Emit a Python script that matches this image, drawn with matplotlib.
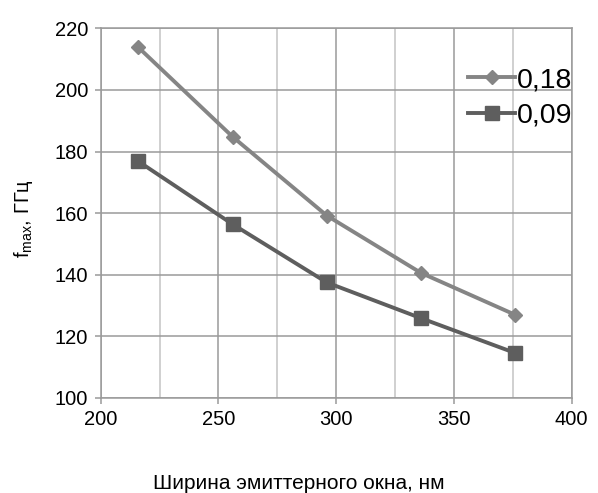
import numpy as np
import matplotlib.pyplot as plt
from matplotlib.ticker import MultipleLocator

plt.rcParams["font.family"] = ["Liberation Sans", "DejaVu Sans"]
plt.rcParams["mathtext.fontset"] = "custom"
plt.rcParams["mathtext.rm"] = "Liberation Sans"

width_nm = [216, 256, 296, 336, 376]
fmax_018 = [213.8, 184.8, 159.2, 140.6, 127.0]
fmax_009 = [176.8, 156.4, 137.5, 125.9, 114.6]
labels = ["0,18", "0,09"]


def main():
    fig = plt.figure(figsize=(5.98, 4.93), dpi=100)
    ax = fig.add_axes([0.1684, 0.1927, 0.7877, 0.7499])

    ax.plot(width_nm, fmax_018, color="#858585", lw=2.8, marker="D",
            markersize=7, label=labels[0], zorder=3)
    ax.plot(width_nm, fmax_009, color="#5e5e5e", lw=2.8, marker="s",
            markersize=10, label=labels[1], zorder=3)

    ax.set_xlim(200, 400)
    ax.set_ylim(100, 220)
    ax.xaxis.set_major_locator(MultipleLocator(50))
    ax.xaxis.set_minor_locator(MultipleLocator(25))
    ax.yaxis.set_major_locator(MultipleLocator(20))

    ax.grid(which="major", color="#9a9a9a", lw=1.1)
    ax.grid(which="minor", axis="x", color="#c4c4c4", lw=1.1)
    ax.set_axisbelow(True)
    for side in ax.spines.values():
        side.set_color("#9a9a9a")
        side.set_linewidth(1.1)

    ax.tick_params(which="major", direction="out", length=4, width=1.1,
                   color="#9a9a9a", labelsize=14.5, pad=5)
    ax.tick_params(which="minor", length=0)

    ax.set_xlabel("Ширина эмиттерного окна, нм", fontsize=15)
    ax.xaxis.set_label_coords(0.421, -0.205)
    ax.set_ylabel("f$_{\\mathregular{max}}$, ГГц", fontsize=14.5)
    ax.yaxis.set_label_coords(-0.14, 0.486)

    ax.legend(loc="upper right", bbox_to_anchor=(1.025, 0.925), frameon=False,
              fontsize=20.5, handlelength=1.65, handletextpad=0.05,
              labelspacing=0.32, borderaxespad=0.0)

    fig.savefig("out.png", dpi=100)


if __name__ == "__main__":
    main()
